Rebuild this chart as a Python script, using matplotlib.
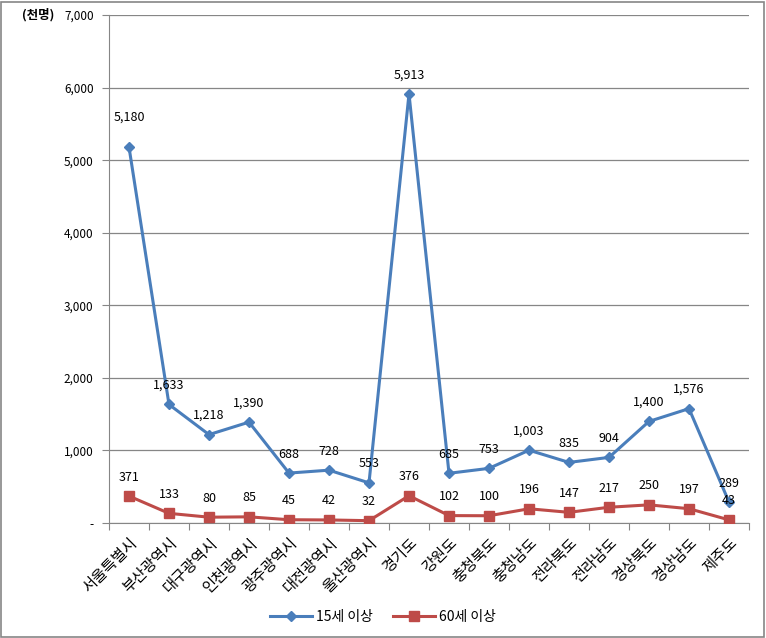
import matplotlib
matplotlib.use("Agg")
import matplotlib.pyplot as plt
from matplotlib.ticker import FixedLocator, FuncFormatter
from matplotlib.patches import Rectangle

plt.rcParams['font.family'] = ['Noto Sans CJK KR', 'DejaVu Sans']

categories = ["서울특별시", "부산광역시", "대구광역시", "인천광역시", "광주광역시", "대전광역시",
              "울산광역시", "경기도", "강원도", "충청북도", "충청남도", "전라북도", "전라남도",
              "경상북도", "경상남도", "제주도"]
age15 = [5180, 1633, 1218, 1390, 688, 728, 553, 5913, 685, 753, 1003, 835, 904, 1400, 1576, 289]
age60 = [371, 133, 80, 85, 45, 42, 32, 376, 102, 100, 196, 147, 217, 250, 197, 43]
series_names = ["15세 이상", "60세 이상"]
yticks = [0, 1000, 2000, 3000, 4000, 5000, 6000, 7000]

W, H = 766, 638
fig = plt.figure(figsize=(W/100, H/100), dpi=100)
fig.patches.append(Rectangle((1/W, 1/H), (W-3)/W, (H-3)/H, transform=fig.transFigure,
                             fill=False, edgecolor='#868686', linewidth=1.2))

ax = fig.add_axes([109/W, (H-523)/H, 640/W, 508/H])
n = len(categories)
x = list(range(n))
blue = '#4A7EBB'
red = '#BE4B48'
ax.plot(x, age15, color=blue, lw=2.2, marker='D', ms=5, label=series_names[0], zorder=3)
ax.plot(x, age60, color=red, lw=2.2, marker='s', ms=7, label=series_names[1], zorder=3)

ax.set_xlim(-0.5, n-0.5)
ax.set_ylim(0, 7000)
ax.yaxis.set_major_locator(FixedLocator(yticks))
ax.yaxis.set_major_formatter(FuncFormatter(lambda v, p: '-' if v == 0 else f'{int(v):,}'))
ax.grid(axis='y', color='#868686', lw=0.9)
ax.set_axisbelow(True)
for s in ['top', 'right']:
    ax.spines[s].set_visible(False)
for s in ['left', 'bottom']:
    ax.spines[s].set_color('#868686')
ax.tick_params(axis='y', length=5, color='#868686', labelsize=8.5, pad=6)
ax.set_xticks([i - 0.5 for i in range(n + 1)])
ax.set_xticklabels([])
ax.set_xticks(x, minor=True)
ax.set_xticklabels(categories, minor=True, rotation=45, ha='right', rotation_mode='anchor', fontsize=11)
ax.tick_params(axis='x', which='major', length=5, color='#868686')
ax.tick_params(axis='x', which='minor', length=0, pad=8)

for i, v in enumerate(age15):
    off = 17 if i == 0 else 9
    ax.annotate(f'{v:,}', (i, v), xytext=(0, off), textcoords='offset points', ha='center', va='bottom', fontsize=9)
for i, v in enumerate(age60):
    ax.annotate(f'{v:,}', (i, v), xytext=(0, 9), textcoords='offset points', ha='center', va='bottom', fontsize=9)

fig.text(22/W, 1 - 15/H, '(천명)', fontsize=9, fontweight='bold', va='center', ha='left')
fig.legend(loc='center', bbox_to_anchor=(0.5, 1 - 617/H), ncol=2, frameon=False, fontsize=10,
           handlelength=3, columnspacing=1.5, handletextpad=0.3)

fig.savefig('out.png', dpi=100)
